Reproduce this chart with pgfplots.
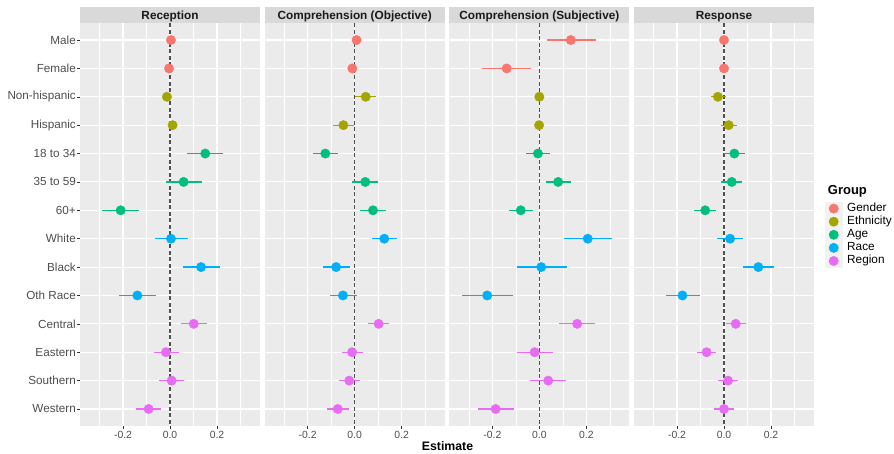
\documentclass[border=0pt]{standalone}
\usepackage{pgfplots}
\pgfplotsset{compat=1.18}
\usepackage{pgfplotstable}
\usepackage{fontspec}
\setmainfont{Liberation Sans}
\definecolor{cGender}{HTML}{F8766D}
\definecolor{cEthnicity}{HTML}{A3A500}
\definecolor{cAge}{HTML}{00BF7D}
\definecolor{cRace}{HTML}{00B0F6}
\definecolor{cRegion}{HTML}{E76BF3}
\definecolor{panelbg}{HTML}{EBEBEB}
\definecolor{stripbg}{HTML}{D9D9D9}
\definecolor{tickgray}{HTML}{4D4D4D}
\definecolor{tickline}{HTML}{333333}
\definecolor{striptext}{HTML}{1A1A1A}
\definecolor{refline}{HTML}{505050}

\pgfplotstableread{
y est lo hi
1 0.004 -0.002 0.010
2 -0.004 -0.010 0.002
3 -0.013 -0.025 -0.001
4 0.011 -0.002 0.024
5 0.150 0.074 0.227
6 0.058 -0.017 0.136
7 -0.210 -0.288 -0.133
8 0.004 -0.065 0.077
9 0.132 0.055 0.211
10 -0.139 -0.217 -0.058
11 0.101 0.047 0.156
12 -0.017 -0.068 0.037
13 0.007 -0.045 0.060
14 -0.091 -0.146 -0.037
}\tabA
\pgfplotstableread{
y est lo hi
1 0.008 0.003 0.013
2 -0.010 -0.015 -0.005
3 0.047 0.001 0.092
4 -0.048 -0.093 -0.003
5 -0.125 -0.177 -0.069
6 0.045 -0.010 0.099
7 0.078 0.024 0.132
8 0.126 0.072 0.181
9 -0.079 -0.136 -0.021
10 -0.050 -0.107 0.011
11 0.102 0.056 0.148
12 -0.011 -0.055 0.035
13 -0.023 -0.068 0.024
14 -0.072 -0.119 -0.024
}\tabB
\pgfplotstableread{
y est lo hi
1 0.134 0.031 0.242
2 -0.139 -0.243 -0.034
3 0.000 -0.003 0.003
4 -0.001 -0.004 0.002
5 -0.006 -0.058 0.047
6 0.080 0.030 0.134
7 -0.079 -0.131 -0.025
8 0.206 0.106 0.309
9 0.008 -0.097 0.117
10 -0.222 -0.329 -0.111
11 0.161 0.085 0.239
12 -0.020 -0.094 0.058
13 0.038 -0.038 0.114
14 -0.186 -0.261 -0.106
}\tabC
\pgfplotstableread{
y est lo hi
1 0.000 -0.003 0.003
2 0.000 -0.003 0.003
3 -0.026 -0.055 0.007
4 0.020 -0.011 0.054
5 0.044 0.000 0.088
6 0.033 -0.011 0.078
7 -0.080 -0.126 -0.035
8 0.026 -0.030 0.081
9 0.146 0.080 0.214
10 -0.177 -0.247 -0.103
11 0.050 0.010 0.092
12 -0.074 -0.114 -0.033
13 0.017 -0.024 0.058
14 0.000 -0.044 0.042
}\tabD

\newcommand{\grpplot}[3]{%
\addplot[forget plot, only marks, mark=*, mark size=4.7pt, color=#1, restrict y to domain=#2,
  error bars/.cd, x dir=both, x explicit, error mark=none, error bar style={line width=1.2pt, #1}]
  table[x=est, y=y, x error plus expr=\thisrow{hi}-\thisrow{est}, x error minus expr=\thisrow{est}-\thisrow{lo}] {#3};}
\newcommand{\panelplots}[2]{%
\addplot[forget plot, refline, line width=1.2pt, dash pattern=on 4pt off 2.5pt] coordinates {(0,0.4) (0,14.6)};
\grpplot{cGender}{1:2}{#1}
\grpplot{cEthnicity}{3:4}{#1}
\grpplot{cAge}{5:7}{#1}
\grpplot{cRace}{8:10}{#1}
\grpplot{cRegion}{11:14}{#1}
\fill[stripbg] (rel axis cs:0,1) rectangle ([yshift=16pt]rel axis cs:1,1);
\node[anchor=base, inner sep=0pt, text=striptext, font=\fontsize{11.8}{13}\selectfont\bfseries] at ([yshift=3.8pt]rel axis cs:0.5,1) {#2};
}

\pgfplotsset{facet/.style={
  scale only axis, width=180pt, height=403pt, anchor=north west,
  xmin=-0.383, xmax=0.383, ymin=0.4, ymax=14.6, y dir=reverse,
  axis background/.style={fill=panelbg},
  axis line style={draw=none},
  xtick={-0.2,0,0.2}, xticklabels={-0.2,0.0,0.2},
  minor xtick={-0.3,-0.1,0.1,0.3},
  ytick={1,...,14},
  xmajorgrids, xminorgrids, ymajorgrids,
  major grid style={white, line width=1.1pt},
  minor grid style={white, line width=0.55pt},
  tick align=outside, major tick length=3pt, minor tick length=0pt,
  tick style={tickline, line width=0.5pt},
  xtick pos=bottom, ytick pos=left,
  x tick label style={font=\fontsize{10.4}{12}\selectfont, text=tickgray, inner sep=1pt, yshift=-1.5pt},
  y tick label style={font=\fontsize{11.7}{13}\selectfont, text=tickgray, inner sep=1pt},
  clip=false,
}}

\begin{document}
\begin{tikzpicture}
\path[use as bounding box] (0,0) rectangle (894pt,-453pt);

\begin{axis}[facet, at={(80pt,-23pt)},
  yticklabels={Male,Female,Non-hispanic,Hispanic,18 to 34,35 to 59,60+,White,Black,Oth Race,Central,Eastern,Southern,Western}]
\panelplots{\tabA}{Reception}
\end{axis}

\begin{axis}[facet, at={(264.67pt,-23pt)}, yticklabels={}, ytick style={draw=none}]
\panelplots{\tabB}{Comprehension (Objective)}
\end{axis}

\begin{axis}[facet, at={(449.33pt,-23pt)}, yticklabels={}, ytick style={draw=none}]
\panelplots{\tabC}{Comprehension (Subjective)}
\end{axis}

\begin{axis}[facet, at={(634pt,-23pt)}, yticklabels={}, ytick style={draw=none},
  legend style={at={(1.0611,0.5558)}, anchor=north west, draw=none, fill=none, inner sep=0pt, outer sep=0pt,
    row sep=0pt, nodes={inner sep=0.8pt, text height=8.5pt, text depth=2.5pt, font=\fontsize{11.8}{13}\selectfont, text=black}},
  legend cell align=left,
  legend image code/.code={\fill[black!5] (0pt,-6.35pt) rectangle (17pt,6.35pt); \path (21pt,0pt); \draw[#1] plot coordinates {(8.5pt,0pt)};}]
\panelplots{\tabD}{Response}
\addlegendimage{only marks, mark=*, mark size=4.7pt, cGender}\addlegendentry{Gender}
\addlegendimage{only marks, mark=*, mark size=4.7pt, cEthnicity}\addlegendentry{Ethnicity}
\addlegendimage{only marks, mark=*, mark size=4.7pt, cAge}\addlegendentry{Age}
\addlegendimage{only marks, mark=*, mark size=4.7pt, cRace}\addlegendentry{Race}
\addlegendimage{only marks, mark=*, mark size=4.7pt, cRegion}\addlegendentry{Region}
\end{axis}

\node[anchor=base west, inner sep=0pt, font=\fontsize{13}{15}\selectfont\bfseries] at (827.7pt,-194pt) {Group};
\node[anchor=base, inner sep=0pt, font=\fontsize{12.3}{14}\selectfont\bfseries] at (447.5pt,-450.6pt) {Estimate};
\end{tikzpicture}
\end{document}
